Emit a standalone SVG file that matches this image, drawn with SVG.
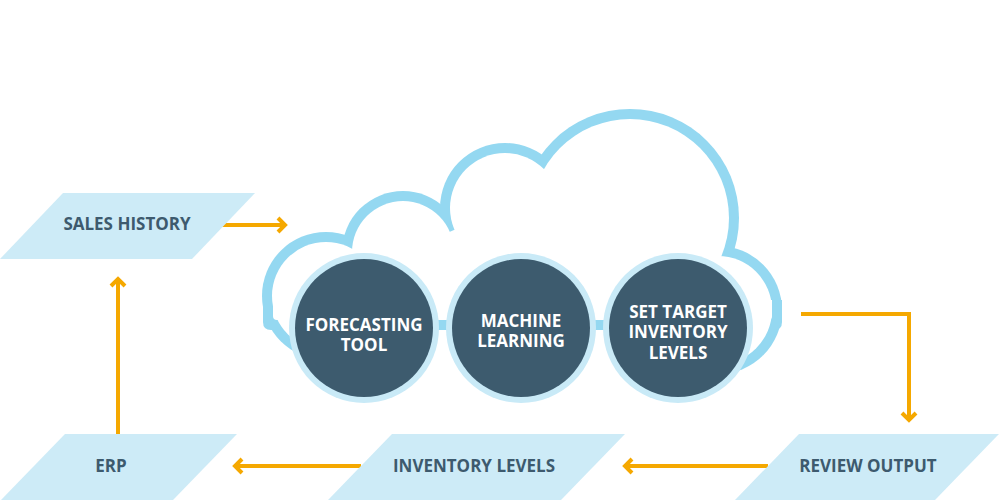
<svg xmlns="http://www.w3.org/2000/svg" width="1000" height="500" viewBox="0 0 1000 500">
<defs>
<style>
.para{fill:#cdebf7}
.plabel{font-family:"Open Sans","Liberation Sans",sans-serif;font-weight:700;font-size:17px;fill:#3d5a6e;text-anchor:middle}
.clabel{font-family:"Open Sans","Liberation Sans",sans-serif;font-weight:700;font-size:17px;fill:#ffffff;text-anchor:middle}
.ring{fill:#c9eaf7}
.core{fill:#3d5b6e}
.cloudo{fill:#94d8f1}
.cloudi{fill:#ffffff}
.conn{fill:none;stroke:#f5a800;stroke-width:4}
</style>
<marker id="arr" markerUnits="userSpaceOnUse" viewBox="0 0 20 20" refX="14" refY="10" markerWidth="20" markerHeight="20" orient="auto">
<path d="M6,3 L13,10 L6,17" fill="none" stroke="#f5a800" stroke-width="4"/>
</marker>
</defs>
<rect width="1000" height="500" fill="#ffffff"/>
<g id="cloud">
<g class="cloudo">
<circle cx="326" cy="296" r="64"/>
<circle cx="403" cy="252" r="61"/>
<circle cx="505" cy="208" r="65"/>
<circle cx="630" cy="218" r="109"/>
<circle cx="718" cy="310" r="64"/>
<polygon points="326,296 403,252 505,208 630,218 718,310 718,320 326,320"/>
<path d="M263,300 V322 Q263,330 271,330 H774 Q782,330 782,322 V300 Z"/>
</g>
<g class="cloudi">
<circle cx="326" cy="296" r="54"/>
<circle cx="403" cy="252" r="51"/>
<circle cx="505" cy="208" r="55"/>
<circle cx="630" cy="218" r="99"/>
<circle cx="718" cy="310" r="54"/>
<polygon points="326,296 403,252 505,208 630,218 718,310 718,318 326,318"/>
<path d="M273,300 V316 Q273,320 277,320 H768 Q772,320 772,316 V300 Z"/>
</g>
</g>
<g id="connectors">
<path class="conn" d="M222,225 H286" marker-end="url(#arr)"/>
<path class="conn" d="M118,434 V278" marker-end="url(#arr)"/>
<path class="conn" d="M801,314 H909 V421" marker-end="url(#arr)"/>
<path class="conn" d="M768,466 H624" marker-end="url(#arr)"/>
<path class="conn" d="M361,466 H234" marker-end="url(#arr)"/>
</g>
<g id="forecasting-tool">
<circle class="ring" cx="364" cy="328" r="75"/>
<circle class="core" cx="364" cy="328" r="69"/>
<text class="clabel" x="364" y="331">FORECASTING</text>
<text class="clabel" x="364" y="351">TOOL</text>
</g>
<g id="machine-learning">
<circle class="ring" cx="521" cy="328" r="75"/>
<circle class="core" cx="521" cy="328" r="69"/>
<text class="clabel" x="521" y="327">MACHINE</text>
<text class="clabel" x="521" y="347">LEARNING</text>
</g>
<g id="set-target">
<circle class="ring" cx="678" cy="328" r="75"/>
<circle class="core" cx="678" cy="328" r="69"/>
<text class="clabel" x="678" y="318">SET TARGET</text>
<text class="clabel" x="678" y="338">INVENTORY</text>
<text class="clabel" x="678" y="359">LEVELS</text>
</g>
<g id="sales-history">
<polygon class="para" points="63,193 255,193 192,259 0,259"/>
<text class="plabel" x="127" y="230">SALES HISTORY</text>
</g>
<g id="erp">
<polygon class="para" points="65,434 237,434 173,500 1,500"/>
<text class="plabel" x="111" y="472">ERP</text>
</g>
<g id="inventory-levels">
<polygon class="para" points="392,434 625,434 561,500 328,500"/>
<text class="plabel" x="474" y="472">INVENTORY LEVELS</text>
</g>
<g id="review-output">
<polygon class="para" points="799,434 999,434 935,500 735,500"/>
<text class="plabel" x="868" y="472">REVIEW OUTPUT</text>
</g>
</svg>
